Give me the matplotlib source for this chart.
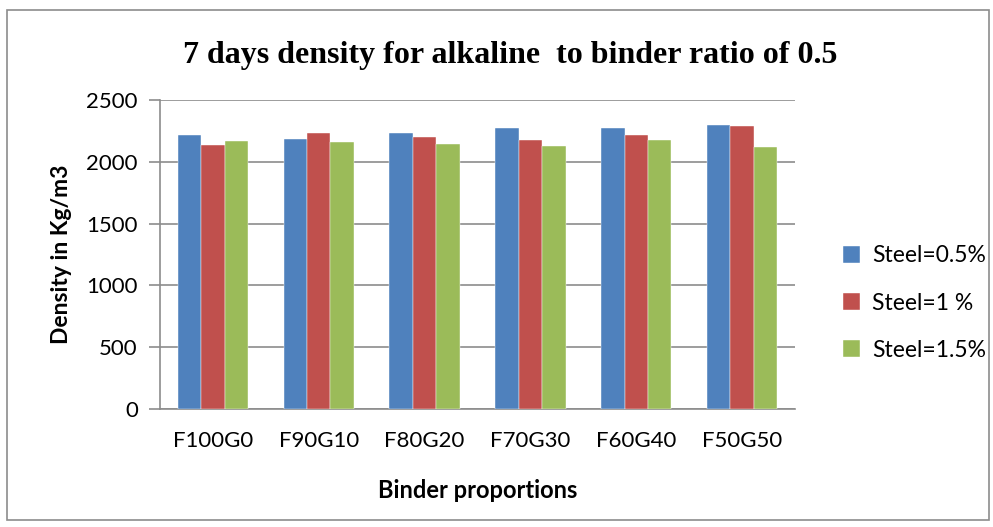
import matplotlib
matplotlib.use("Agg")
import matplotlib.pyplot as plt
import numpy as np
from matplotlib.patches import Rectangle

categories = ["F100G0", "F90G10", "F80G20", "F70G30", "F60G40", "F50G50"]
steel_05 = [2214, 2185, 2236, 2276, 2276, 2298]
steel_1 = [2136, 2230, 2203, 2179, 2214, 2287]
steel_15 = [2168, 2163, 2146, 2130, 2176, 2120]
series_labels = ["Steel=0.5%", "Steel=1 %", "Steel=1.5%"]
colors = ["#4F81BD", "#C0504D", "#9BBB59"]
yticks = [0, 500, 1000, 1500, 2000, 2500]

W, H = 993, 527
fig = plt.figure(figsize=(W / 100, H / 100), dpi=100)
fig.patch.set_facecolor("white")

# outer border
fig.patches.append(Rectangle((7 / W, 1 - 520 / H), (989 - 7) / W, (520 - 10) / H,
                             transform=fig.transFigure, fill=False,
                             edgecolor="#8C8C8C", linewidth=1.2))

ax = fig.add_axes([160 / W, 1 - 409 / H, (795 - 160) / W, (409 - 100) / H])
x = np.arange(len(categories))
bw = 0.222
for i, (vals, lab, c) in enumerate(zip([steel_05, steel_1, steel_15], series_labels, colors)):
    ax.bar(x + (i - 1) * bw, vals, width=bw, color=c, label=lab, zorder=3,
           edgecolor="white", linewidth=0.3)

ax.set_xlim(-0.5, len(categories) - 0.5)
ax.set_ylim(0, 2500)
ax.set_yticks(yticks)
ax.set_yticklabels([str(t) for t in yticks])
ax.set_xticks(x)
ax.set_xticklabels(categories)
ax.yaxis.grid(True, color="#8C8C8C", linewidth=1.2, zorder=0)
ax.set_axisbelow(True)
for s in ["top", "right"]:
    ax.spines[s].set_visible(False)
ax.spines["left"].set_color("#8C8C8C")
ax.spines["bottom"].set_color("#8C8C8C")
ax.spines["left"].set_linewidth(1.2)
ax.spines["bottom"].set_linewidth(1.2)
ax.tick_params(axis="y", length=8, color="#8C8C8C", width=1.2, pad=8,
               labelsize=16)
ax.tick_params(axis="x", length=0, pad=16, labelsize=16)
for t in ax.get_xticklabels() + ax.get_yticklabels():
    t.set_fontfamily("Lato")

ax.set_xlabel("Binder proportions", fontsize=17, fontweight="bold",
              family="Lato", labelpad=20)
ax.set_ylabel("Density in Kg/m3", fontsize=16.5, fontweight="bold",
              family="Lato", labelpad=10)

fig.text(510 / W, 1 - 56 / H, "7 days density for alkaline  to binder ratio of 0.5",
         ha="center", va="center", fontsize=23, fontweight="bold",
         family="Liberation Serif")

leg = fig.legend(loc="center left", bbox_to_anchor=(834 / W, 1 - 303 / H),
                 frameon=False, prop={"family": "Lato", "size": 16.5},
                 handlelength=0.75, handleheight=0.75, labelspacing=1.15,
                 handletextpad=0.5, borderaxespad=0)

fig.savefig("out.png", dpi=100, facecolor="white")
